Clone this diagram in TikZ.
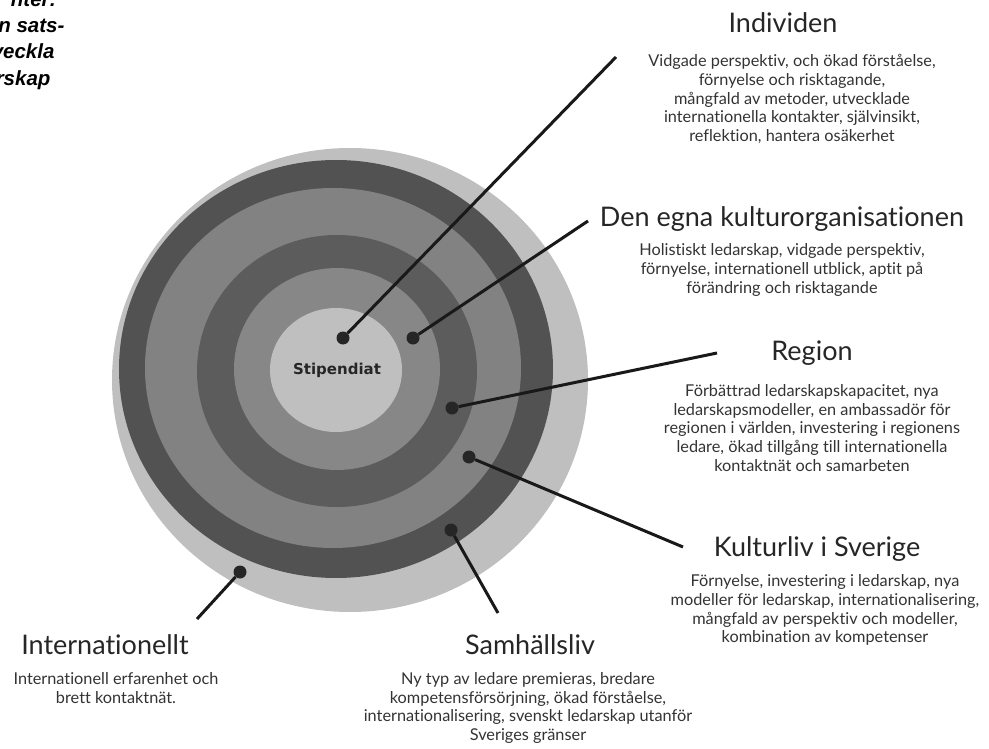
\documentclass[tikz,border=0pt]{standalone}
\usepackage{fontspec}
\setmainfont{Lato}[Ligatures=NoCommon]
\newfontfamily\ingressfont{Liberation Sans}
\newfontfamily\mittfont{DejaVu Sans}

\definecolor{ljusgra}{gray}{0.75}
\definecolor{morkgra}{gray}{0.32}
\definecolor{mellangra}{gray}{0.51}
\definecolor{mellanmork}{gray}{0.36}
\definecolor{mellanljus}{gray}{0.53}

\begin{document}
\begin{tikzpicture}[x=1pt, y=-1pt,
    rubrik/.style={font=\fontsize{27}{31}\selectfont, text=black!85},
    brodtext/.style={font=\fontsize{16.3}{18.8}\selectfont, align=center, text=black!80},
    ingress/.style={font=\ingressfont\bfseries\itshape\fontsize{20.5}{24}\selectfont, anchor=base east},
    prick/.style={circle, fill=black!85, inner sep=0pt, minimum size=13pt},
    linje/.style={line width=3pt, black!90}]
\useasboundingbox (0,0) rectangle (989,749);

% ringarna kring stipendiaten
\fill[ljusgra] (350,380) ellipse [x radius=238pt, y radius=232pt];
\fill[morkgra] (336,369) ellipse [x radius=217pt, y radius=209pt];
\fill[mellangra] (333,368) ellipse [x radius=188pt, y radius=180pt];
\fill[mellanmork] (337,371) ellipse [x radius=140pt, y radius=136pt];
\fill[mellanljus] (337,369) ellipse [x radius=103pt, y radius=101pt];
\fill[ljusgra] (336,370) ellipse [x radius=66pt, y radius=62pt];

\node[font=\mittfont\bfseries\fontsize{15}{17}\selectfont, text=black!85] (stip) at (337,370) {Stipendiat};

% prickar och ändpunkter
\node[prick] (pIndividen) at (343,338) {};
\node[prick] (pOrg) at (413,338) {};
\node[prick] (pRegion) at (452,408) {};
\node[prick] (pKultur) at (469,457) {};
\node[prick] (pSamhalle) at (451,530) {};
\node[prick] (pIntern) at (240,572) {};

\coordinate (eIndividen) at (616,57);
\coordinate (eOrg) at (588,221);
\coordinate (eRegion) at (717,353);
\coordinate (eKultur) at (683,547);
\coordinate (eSamhalle) at (498,613);
\coordinate (eIntern) at (197,619);

\draw[linje] (pIndividen) -- (eIndividen);
\draw[linje] (pOrg) -- (eOrg);
\draw[linje] (pRegion) -- (eRegion);
\draw[linje] (pKultur) -- (eKultur);
\draw[linje] (pSamhalle) -- (eSamhalle);
\draw[linje] (pIntern) -- (eIntern);

% rubriker och texter
\node[rubrik] (tIndividen) at (783,23) {Individen};
\node[brodtext] (bIndividen) at (792,99) {Vidgade perspektiv, och ökad förståelse,\\förnyelse och risktagande,\\mångfald av metoder, utvecklade\\internationella kontakter, självinsikt,\\reflektion, hantera osäkerhet};

\node[rubrik] (tOrg) at (782,219) {Den egna kulturorganisationen};
\node[brodtext] (bOrg) at (782,270) {Holistiskt ledarskap, vidgade perspektiv,\\förnyelse, internationell utblick, aptit på\\förändring och risktagande};

\node[rubrik] (tRegion) at (812,353) {Region};
\node[brodtext] (bRegion) at (812,428) {Förbättrad ledarskapskapacitet, nya\\ledarskapsmodeller, en ambassadör för\\regionen i världen, investering i regionens\\ledare, ökad tillgång till internationella\\kontaktnät och samarbeten};

\node[rubrik] (tKultur) at (817,549) {Kulturliv i Sverige};
\node[brodtext] (bKultur) at (825,610) {Förnyelse, investering i ledarskap, nya\\modeller för ledarskap, internationalisering,\\mångfald av perspektiv och modeller,\\kombination av kompetenser};

\node[rubrik] (tIntern) at (105,645) {Internationellt};
\node[brodtext] (bIntern) at (116,688) {Internationell erfarenhet och\\brett kontaktnät.};

\node[rubrik] (tSamhalle) at (530,645) {Samhällsliv};
\node[brodtext] (bSamhalle) at (528,708) {Ny typ av ledare premieras, bredare\\kompetensförsörjning, ökad förståelse,\\internationalisering, svenskt ledarskap utanför\\Sveriges gränser};

% avklippt ingress uppe till vänster
\node[ingress] (ing1) at (60,7) {nter:};
\node[ingress] (ing2) at (68,33) {n sats-};
\node[ingress] (ing3) at (58,59) {veckla};
\node[ingress] (ing4) at (54,86) {rskap};
\end{tikzpicture}
\end{document}
